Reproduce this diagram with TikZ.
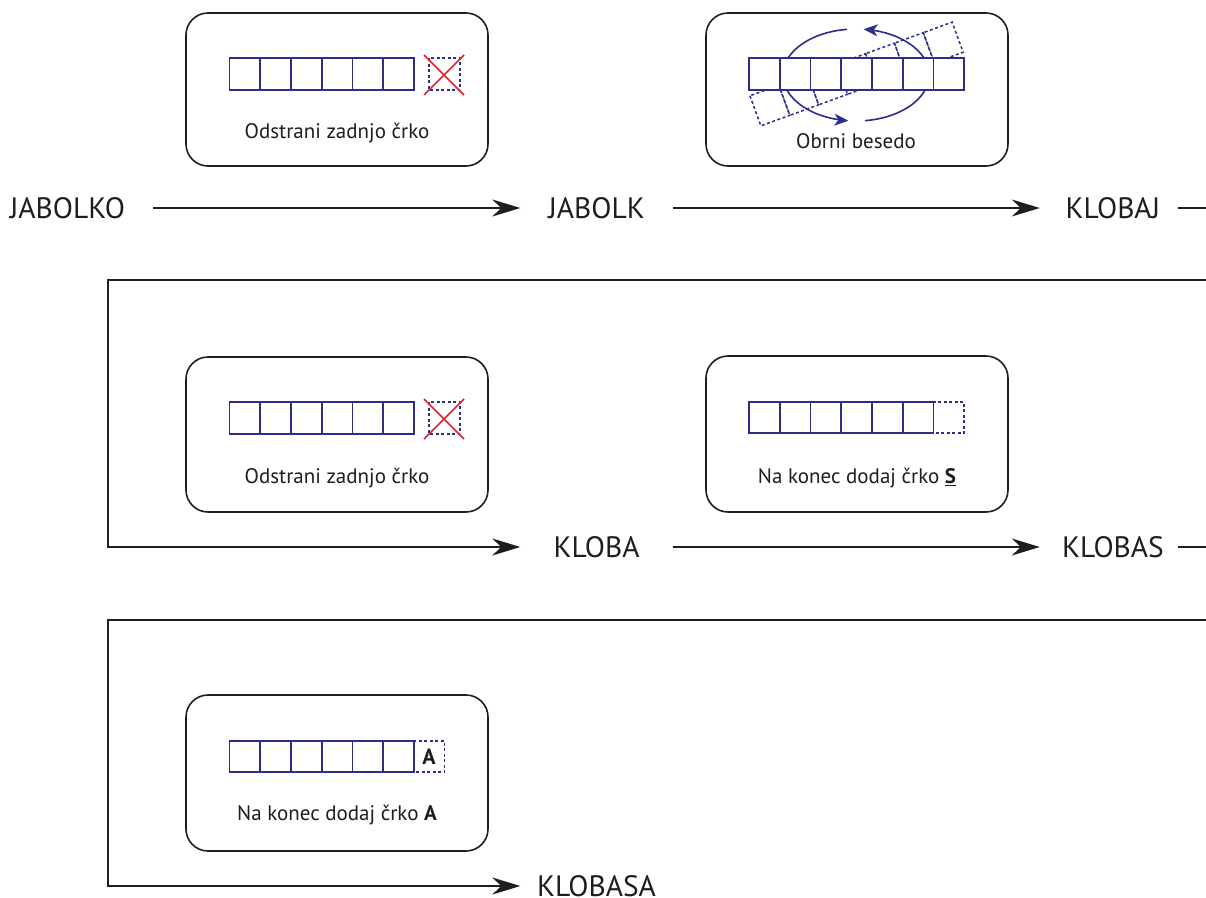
\documentclass[tikz,border=0pt]{standalone}
\usepackage{fontspec}
\setmainfont{PT Sans}
\usetikzlibrary{arrows.meta}
\definecolor{cb}{RGB}{45,45,140}
\definecolor{xred}{RGB}{232,32,45}
\definecolor{ink}{RGB}{30,30,30}
\begin{document}
\begin{tikzpicture}[x=1pt,y=-1pt,
 panel/.style={draw=ink, line width=1.6pt, rounded corners=22pt},
 word/.style={font=\fontsize{29.5}{32}\selectfont, inner sep=0pt, text height=20.6pt, text depth=0pt, text=ink},
 midword/.style={word, minimum width=152pt},
 rightword/.style={word, minimum width=146pt},
 captxt/.style={font=\fontsize{21}{24}\selectfont, inner sep=0pt, text=ink},
 flow/.style={line width=1.8pt, draw=ink},
 arr/.style={flow, -{Stealth[length=28pt,width=17pt,inset=9pt]}},
 cell/.style={draw=cb, line width=1.6pt, fill=white},
 dcell/.style={draw=cb, line width=1.5pt, dash pattern=on 3pt off 2.5pt},
 cross/.style={draw=xred, line width=1.5pt},
 turn/.style={draw=cb, line width=1.6pt},
 turnarr/.style={turn, -{Stealth[length=14pt,width=12pt,inset=4pt]}},
]
\useasboundingbox (0,0) rectangle (1206,897);

% ---- panels ----
\draw[panel] (186,13) rectangle (488,166);
\draw[panel] (706,13) rectangle (1008,166);
\draw[panel] (186,357) rectangle (488,512);
\draw[panel] (706,356) rectangle (1008,512);
\draw[panel] (186,695) rectangle (488,851);

% ---- panel 1: remove last letter ----
\foreach \i in {0,...,5} \draw[cell] (229.5+\i*30.75,58) rectangle ++(30.75,32);
\draw[dcell] (429,58) rectangle (460,90);
\draw[cross] (424,55) -- (464,95);
\draw[cross] (464,55) -- (424,95);
\node[captxt] (t1) at (337,133) {Odstrani zadnjo črko};

% ---- panel 2: reverse the word ----
\begin{scope}[shift={(856.5,74)}, rotate=20]
  \foreach \i in {0,...,6} \draw[dcell] (-107.6+\i*30.75,-16) rectangle ++(30.75,32);
\end{scope}
\draw[turnarr] plot[domain=0:84, samples=40, smooth] ({856+73*cos(\x)},{75-46*sin(\x)});
\draw[turn] plot[domain=97:180, samples=40, smooth] ({856+73*cos(\x)},{75-46*sin(\x)});
\draw[turnarr] plot[domain=180:264, samples=40, smooth] ({856+73*cos(\x)},{75-46*sin(\x)});
\draw[turn] plot[domain=277:360, samples=40, smooth] ({856+73*cos(\x)},{75-46*sin(\x)});
\foreach \i in {0,...,6} \draw[cell] (749+\i*30.75,58) rectangle ++(30.75,32);
\node[captxt] (t2) at (856,141) {Obrni besedo};

% ---- panel 3: remove last letter ----
\foreach \i in {0,...,5} \draw[cell] (229.5+\i*30.75,402) rectangle ++(30.75,32);
\draw[dcell] (429,402) rectangle (460,434);
\draw[cross] (424,399) -- (464,439);
\draw[cross] (464,399) -- (424,439);
\node[captxt] (t3) at (337,478) {Odstrani zadnjo črko};

% ---- panel 4: append S ----
\foreach \i in {0,...,5} \draw[cell] (749+\i*30.75,402) rectangle ++(30.75,31);
\draw[dcell] (933.5,402) rectangle (964,433);
\node[captxt] (t4) at (857,478) {Na konec dodaj črko \textbf{\underline{S}}};

% ---- panel 5: append A ----
\foreach \i in {0,...,5} \draw[cell] (229.5+\i*30.75,741) rectangle ++(30.75,31);
\draw[dcell] (414,741) rectangle (444.5,772);
\node[font=\fontsize{22}{24}\selectfont\bfseries, inner sep=0pt, text=ink] (la) at (429,757) {A};
\node[captxt] (t5) at (337,815) {Na konec dodaj črko \textbf{A}};

% ---- words ----
\node[word, minimum width=171pt] (jabolko) at (67.5,208) {JABOLKO};
\node[midword] (jabolk) at (596.5,208) {JABOLK};
\node[rightword] (klobaj) at (1113,208) {KLOBAJ};
\node[midword] (kloba) at (596.5,547) {KLOBA};
\node[rightword] (klobas) at (1113,547) {KLOBAS};
\node[midword] (klobasa) at (596.5,886) {KLOBASA};

\coordinate (e1) at (1206,208);
\coordinate (r2) at (1206,280);
\coordinate (c2a) at (108,280);
\coordinate (c2b) at (108,547);
\coordinate (e2) at (1206,547);
\coordinate (r3) at (1206,620);
\coordinate (c3a) at (108,620);
\coordinate (c3b) at (108,886);

% ---- connectors ----
\draw[arr] (jabolko.east) -- (jabolk.west);
\draw[arr] (jabolk.east) -- (klobaj.west);
\draw[flow] ([xshift=-8pt]klobaj.east) -- (e1);
\draw[arr] (r2) -- (c2a) -- (c2b) -- (kloba.west);
\draw[arr] (kloba.east) -- (klobas.west);
\draw[flow] ([xshift=-8pt]klobas.east) -- (e2);
\draw[arr] (r3) -- (c3a) -- (c3b) -- (klobasa.west);
\end{tikzpicture}
\end{document}
